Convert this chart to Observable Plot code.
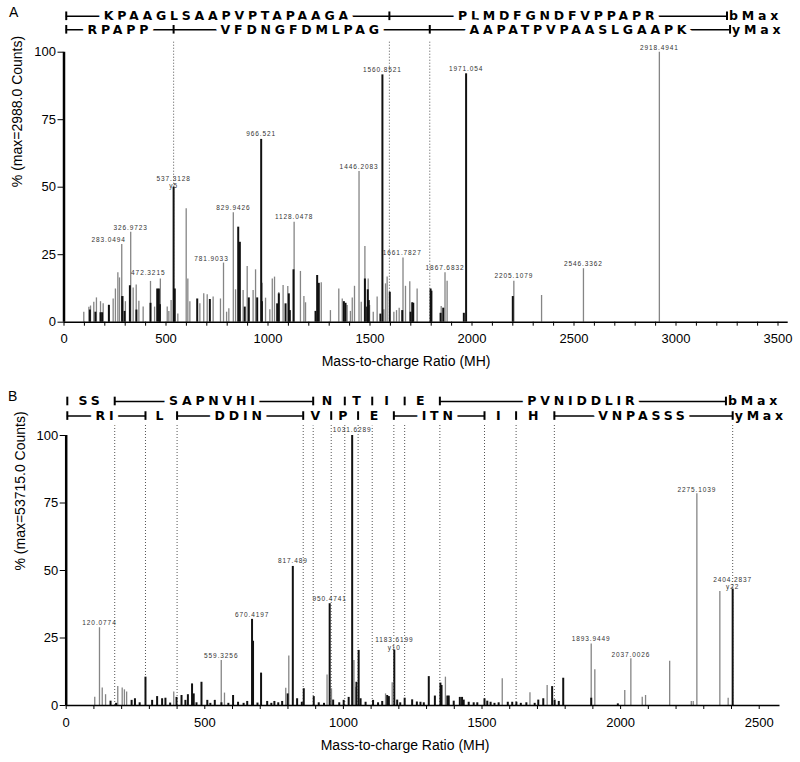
<!DOCTYPE html>
<html><head><meta charset="utf-8">
<script src="https://cdn.jsdelivr.net/npm/d3@7"></script>
<script src="https://cdn.jsdelivr.net/npm/@observablehq/plot@0.6"></script>
<style>
body{margin:0;background:#fff;}
#wrap{position:relative;width:800px;height:762px;font-family:"Liberation Sans",Arial,sans-serif;background:#fff;}
.panel{position:absolute;left:0;width:800px;height:381px;}
.tag{position:absolute;font-size:14px;line-height:16px;}
</style></head><body>
<div id="wrap">
 <div class="panel" id="pa" style="top:0"></div>
 <div class="panel" id="pb" style="top:381px"></div>
 <div class="tag" style="left:9px;top:4px">A</div>
 <div class="tag" style="left:8px;top:388px">B</div>
</div>
<script>
// ---------- Panel A data ----------
const aGray = [[97,3.7],[122,5.5],[130,6],[146,7.4],[159,9],[179,7.6],[192,6.8],[220,6.4],[241,8.6],[252,12.3],[264,18.3],[272,16.4],[283.05,28.8],[290,9.5],[301,7.6],[326.97,33.3],[339,12.7],[354,13.8],[367,7.8],[388,5.6],[424,15.1],[444,5.6],[472.32,16],[506,5.6],[514,4],[525,8],[558,3],[599,42],[607,16],[617,7.6],[666,6.8],[685,10.5],[702,10.2],[731,9.3],[767,8.6],[781.9,21.9],[797,3.7],[808,5],[829.94,40.5],[841,12],[878,11.7],[898,20.6],[927,11.7],[939,19.4],[971,14.4],[988,8.9],[1009,4.6],[1021,16],[1032,16.7],[1053,11],[1074,13.6],[1097,13.2],[1128.05,37],[1159,18.8],[1176,9.5],[1184,7.2],[1261,14.6],[1306,4.3],[1347,12.3],[1364,8.6],[1388,6.2],[1404,4],[1413,9],[1424,13.3],[1446.21,55.8],[1457,7.4],[1475,28],[1491,16],[1498,6.2],[1516,3.7],[1535,9.3],[1568,4.6],[1576,14.2],[1584,16.7],[1617,3.7],[1630,4.3],[1643,5.2],[1661.78,23.8],[1674,13.3],[1695,15],[1731,12.3],[1849,5.8],[1867.68,18.3],[1878,15.2],[2205.11,15.2],[2341,9.9],[2546.34,19.8],[2918.49,100]];
const aBlack = [[127,4.5],[154,3.7],[179,3.5],[187,3.5],[220,6.2],[285,9.5],[297,4],[323,13.5],[355,4.5],[424,7],[457,12.3],[465,12.3],[470,6.5],[537.31,50],[543,12.3],[653,8.6],[715,8.4],[854,35.2],[862,29.6],[886,5.6],[906,9],[947,9],[966.52,67.7],[970,7.6],[1045,6.8],[1053,10.5],[1086,6.8],[1102,10.5],[1107,4.3],[1125,19.4],[1233,4],[1241,17.3],[1249,14.4],[1372,7.6],[1380,7],[1475,16],[1486,5.6],[1489,12],[1494,8],[1551,3],[1560.85,91.6],[1597,11.1],[1658,4.3],[1699,3.7],[1707,7.2],[1712,7],[1797,12.3],[1801,11.5],[1846,3.3],[1859,5.2],[1960,3.3],[1971.05,92],[2200,9.5]];
const aDotted = [537.31, 1595, 1793];
const aLabels = [["283.0494",219,29.8],["326.9723",327,34.2],["472.3215",413,17.3],["537.3128",537.3,52.4],["781.9033",723,22.8],["829.9426",829.9,41.5],["966.521",966.5,68.8],["1128.0478",1128,38.1],["1446.2083",1446.2,56.9],["1560.8521",1560.9,92.7],["1661.7827",1658,25],["1867.6832",1867.7,19.5],["1971.054",1971,93],["2205.1079",2205.1,16.2],["2546.3362",2546.3,20.8],["2918.4941",2918.5,101]];
const aSubLabels = [["y5",537.3,49.6]];
const aRow1Bars = [11, 1595, 3250];
const aRow1Text = ["KPAAGLSAAPVPTAPAAGA", "PLMDFGNDFVPPAPR"];
const aRow1Line = [1, 1];
const aRow2Bars = [11, 537.31, 1793, 3265];
const aRow2Text = ["RPAPP", "VFDNGFDMLPAG", "AAPATPVPAASLGAAPK"];
const aRow2Line = [1, 1, 1];
const aYLabel = "% (max=2988.0 Counts)";

// ---------- Panel B data ----------
const bGray = [[103,3.1],[120.08,28.8],[130,6.5],[142,4],[186,7],[202,6.5],[210,5.8],[218,5],[388,5],[559.33,16.7],[571,4.6],[792,6.4],[803,18.3],[941,11.3],[957,6.2],[1038,16.7],[1045,6.8],[1152,4.3],[1176,8.4],[1368,10.5],[1573,9.9],[1673,4.7],[1735,7.4],[1893.94,22.8],[1907,13.2],[2015,5.6],[2037,17.3],[2078,3.1],[2090,3.7],[2177,16.4],[2255,1.5],[2262,1.5],[2275.1,78.4],[2358,42.2],[2388,2.7]];
const bBlack = [[160,1.6],[180,0.8],[236,1.9],[248,2.5],[265,1],[286,10.5],[310,1.9],[328,3.3],[346,2.5],[358,2.7],[375,0.9],[398,3],[416,3.7],[430,1.9],[439,4],[454,8],[460,4.3],[470,1],[488,8.6],[509,1.9],[520,0.8],[536,1.9],[560,1],[585,0.8],[602,3.7],[620,1.2],[640,0.8],[653,1.5],[670.42,31.9],[674,23.8],[690,0.9],[703,12],[725,1.5],[740,0.8],[751,1.5],[765,1],[779,1.5],[799,4.3],[817.49,51.5],[833,2.5],[850,1.2],[857,6.2],[893,3.3],[911,1],[930,0.8],[950.47,37.7],[963,2],[985,1],[1001,1.9],[1019,3],[1031.63,100],[1047,8.6],[1055,20.4],[1062,2.5],[1080,1.2],[1107,1.9],[1125,1],[1140,1.5],[1158,3.7],[1164,3.3],[1183.62,20.4],[1194,2],[1205,1],[1221,2.7],[1248,2.1],[1265,1.3],[1278,1.2],[1290,1],[1308,10.7],[1330,3.5],[1350,8.3],[1354,7.4],[1375,3.5],[1380,3.5],[1398,1.6],[1420,3],[1428,3],[1434,2],[1452,1.2],[1470,1],[1483,1],[1509,2.5],[1519,1.6],[1531,1.2],[1545,0.8],[1560,1],[1593,1.2],[1609,1.2],[1624,1.2],[1640,0.8],[1660,1],[1690,0.8],[1703,2],[1721,2.5],[1753,7],[1762,2],[1777,1.5],[1793,10.1],[1894,2.7],[1990,0.6],[2404.28,43]];
const bDotted = [175, 286, 400, 855, 891, 956, 1005, 1053, 1104, 1182, 1221, 1348, 1509, 1623, 1761, 2404.3];
const bLabels = [["120.0774",120.1,29.9],["559.3256",559.3,17.6],["670.4197",670.4,32.6],["817.489",817.5,52.6],["950.4741",950.5,38.6],["1031.6289",1031.6,101.3],["1183.6199",1183.6,23.4],["1893.9449",1893.9,23.9],["2037.0026",2037,18],["2275.1039",2275.1,79.2],["2404.2837",2404.3,45.9]];
const bSubLabels = [["y10",1183.6,20.7],["y22",2404.3,43.2]];
const bRow1Bars = [4, 175, 891, 1005, 1104, 1221, 1348, 2380];
const bRow1Text = ["SS", "SAPNVHI", "N", "T", "I", "E", "PVNIDDLIR"];
const bRow1Line = [0, 1, 0, 0, 0, 0, 1];
const bRow2Bars = [4, 286, 400, 855, 956, 1053, 1182, 1509, 1623, 1761, 2404.3];
const bRow2Text = ["RI", "L", "DDIN", "V", "P", "E", "ITN", "I", "H", "VNPASSS"];
const bRow2Line = [1, 0, 1, 0, 0, 0, 1, 0, 0, 1];
const bYLabel = "% (max=53715.0 Counts)";

const xLabel = "Mass-to-charge Ratio (MH)";
const yTicks = [0, 25, 50, 75, 100];
const xTicksA = d3.range(0, 3501, 100);
const xTicksB = d3.range(0, 2501, 100);

function segments(bars, texts, lines, row) {
  return texts.map((t, i) => ({t, x1: bars[i], x2: bars[i + 1], xm: (bars[i] + bars[i + 1]) / 2, line: !!lines[i], row}));
}

function panel(c) {
  const segs = [...segments(c.r1Bars, c.r1Text, c.r1Line, c.r1Y), ...segments(c.r2Bars, c.r2Text, c.r2Line, c.r2Y)];
  const bars = [...c.r1Bars.map(x => ({x, row: c.r1Y})), ...c.r2Bars.map(x => ({x, row: c.r2Y}))];
  const ends = [{x: c.r1Bars[c.r1Bars.length - 1], row: c.r1Y, t: "bMax"}, {x: c.r2Bars[c.r2Bars.length - 1], row: c.r2Y, t: "yMax"}];
  const bold = {fontWeight: "bold", fontSize: 12.5, fontFamily: "DejaVu Sans"};
  const svg = Plot.plot({
    width: 800, height: 381,
    marginLeft: c.ml, marginRight: c.mr, marginTop: c.mt, marginBottom: c.mb,
    style: {fontFamily: "'Liberation Sans', Arial, sans-serif", fontSize: "13px", background: "white", color: "black", overflow: "visible"},
    x: {domain: [0, c.xMax], ticks: c.xTicks, tickFormat: d => (d % 500 === 0 ? String(d) : ""), tickSize: 4, tickPadding: 8, label: null},
    y: {domain: [0, 100], ticks: yTicks, tickSize: 6, tickPadding: 2, label: null},
    marks: [
      Plot.ruleX(c.dotted, {y1: 0, y2: 103.7, stroke: "#555", strokeWidth: 1, strokeDasharray: "1,2"}),
      Plot.ruleX(c.gray, {x: d => d[0], y1: 0, y2: d => d[1], stroke: "#858585", strokeWidth: 1.3}),
      Plot.ruleX(c.black, {x: d => d[0], y1: 0, y2: d => d[1], stroke: "#111", strokeWidth: 2}),
      Plot.ruleX([0], {y1: 0, y2: 100, stroke: "#000", strokeWidth: 2.5}),
      Plot.ruleY([0], {x1: 0, x2: c.xMax, stroke: "#000", strokeWidth: 1.5}),
      Plot.text(c.labels, {x: d => d[1], y: d => d[2], text: d => d[0], lineAnchor: "bottom", fontSize: 6.5, fill: "#333"}),
      Plot.text(c.sub, {x: d => d[1], y: d => d[2], text: d => d[0], lineAnchor: "bottom", fontSize: 6.5, fill: "#333"}),
      Plot.ruleY(segs.filter(s => s.line), {x1: "x1", x2: "x2", y: "row", stroke: "#000", strokeWidth: 1.5}),
      Plot.text(segs, {x: "xm", y: "row", text: "t", ...bold, fill: "#000", stroke: "white", strokeWidth: 11}),
      Plot.ruleX(bars, {x: "x", y1: d => d.row - 1.6, y2: d => d.row + 1.6, stroke: "#000", strokeWidth: 2}),
      Plot.text(ends, {x: "x", y: "row", text: "t", ...bold, fill: "#000", textAnchor: "start", dx: 2}),
      Plot.text([c.yLabel], {frameAnchor: "left", rotate: -90, dx: -46, fontSize: 14}),
      Plot.text([xLabel], {frameAnchor: "bottom", dy: 44, dx: c.xLabelDx, fontSize: 14})
    ]
  });
  svg.querySelectorAll("g[font-weight='bold']").forEach(g => {
    g.style.letterSpacing = "3.8px";
    g.style.paintOrder = "stroke";
    g.style.strokeLinejoin = "round";
  });
  svg.querySelectorAll("g[font-size='6.5']").forEach(g => { g.style.letterSpacing = "0.9px"; });
  return svg;
}

document.getElementById("pa").appendChild(panel({
  ml: 63.5, mr: 12.3, mt: 51.7, mb: 59.3, xMax: 3550, xTicks: xTicksA, xLabelDx: -20,
  gray: aGray, black: aBlack, dotted: aDotted, labels: aLabels, sub: aSubLabels,
  r1Bars: aRow1Bars, r1Text: aRow1Text, r1Line: aRow1Line, r1Y: 113.3,
  r2Bars: aRow2Bars, r2Text: aRow2Text, r2Line: aRow2Line, r2Y: 108.3,
  yLabel: aYLabel
}));
document.getElementById("pb").appendChild(panel({
  ml: 65.7, mr: 20.5, mt: 54, mb: 57, xMax: 2575, xTicks: xTicksB, xLabelDx: -18,
  gray: bGray, black: bBlack, dotted: bDotted, labels: bLabels, sub: bSubLabels,
  r1Bars: bRow1Bars, r1Text: bRow1Text, r1Line: bRow1Line, r1Y: 112.6,
  r2Bars: bRow2Bars, r2Text: bRow2Text, r2Line: bRow2Line, r2Y: 107.2,
  yLabel: bYLabel
}));
</script>
</body></html>
